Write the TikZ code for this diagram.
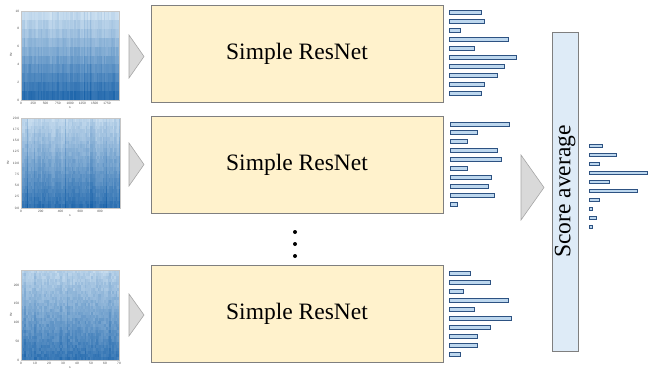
\documentclass[tikz,border=0pt]{standalone}
\usepackage{fontspec}
\setmainfont{Liberation Serif}
\newfontfamily\tickfont{Liberation Sans}
\definecolor{resfill}{RGB}{255,242,204}
\definecolor{boxline}{RGB}{127,127,127}
\definecolor{avgfill}{RGB}{222,235,247}
\definecolor{barfill}{RGB}{189,215,238}
\definecolor{barline}{RGB}{45,82,130}
\definecolor{trifill}{RGB}{217,217,217}
\definecolor{triline}{RGB}{166,166,166}
\definecolor{specL}{RGB}{210,228,243}
\definecolor{specD}{RGB}{22,96,168}
\tikzset{
  resbox/.style={draw=boxline, line width=1pt, fill=resfill, minimum width=292pt, minimum height=97pt, inner sep=0pt, font=\fontsize{23.5}{26}\selectfont},
  avgbox/.style={draw=boxline, line width=1pt, fill=avgfill, minimum width=319pt, minimum height=26pt, inner sep=0pt, rotate=90, font=\fontsize{23.5}{26}\selectfont},
  arrowtri/.style={draw=triline, fill=trifill, line width=0.6pt},
  hbar/.style={draw=barline, fill=barfill, line width=0.9pt},
  ticklab/.style={font=\tickfont\fontsize{3.2}{3.5}\selectfont, text=black!70, inner sep=0.6pt},
  specframe/.style={draw=gray!45, line width=0.5pt},
  dot/.style={circle, fill=black, minimum size=4pt, inner sep=0pt}
}
\def\streakamp{1}
% spectrogram: #1 x0, #2 y0, #3 w, #4 h, #5 cols, #6 rows, #7 top darkness, #8 range, #9 noise
\newcommand\specgram[9]{%
  \begin{scope}
  \clip (#1,#2) rectangle ++(#3,#4);
  \foreach \ci in {1,...,#5}{
    \pgfmathsetmacro\colr{(rnd*10-4+(rnd>0.93)*12)*\streakamp}
    \foreach \ri in {1,...,#6}{
      \pgfmathtruncatemacro\pp{max(0,min(100,#7+(\ri-1)/(#6-1)*#8+\colr+rnd*#9))}
      \fill[specD!\pp!specL] ({#1+(\ci-1)*#3/#5},{#2+(\ri-1)*#4/#6}) rectangle ++({#3/#5+1},{#4/#6+1});
    }}
  \end{scope}
  \draw[specframe] (#1,#2) rectangle ++(#3,#4);
}
\begin{document}
\begin{tikzpicture}[x=1pt,y=-1pt]
\useasboundingbox (0,0) rectangle (650,370);
\pgfmathsetseed{4242}

% ---------- spectrogram 1 ----------
\specgram{21}{11}{98}{89}{70}{10}{4}{80}{7}
\foreach \v/\yy in {0/100,2/82.2,4/64.4,6/46.6,8/28.8,10/11}
  {\node[ticklab, anchor=east] at (20,\yy) {\v};}
\foreach \v/\xx in {0/21,250/33.3,500/45.6,750/57.9,1000/70.1,1250/82.4,1500/94.7,1750/107}
  {\node[ticklab, anchor=north] at (\xx,101) {\v};}
\node[ticklab, anchor=north] at (70,106) {s};
\node[ticklab, rotate=90] at (11,55) {Hz};

% ---------- spectrogram 2 ----------
\specgram{21}{118}{99}{90}{70}{24}{6}{74}{9}
\foreach \v/\yy in {0.0/208,2.5/196.75,5.0/185.5,7.5/174.25,10.0/163,12.5/151.75,15.0/140.5,17.5/129.25,20.0/118}
  {\node[ticklab, anchor=east] at (20,\yy) {\v};}
\foreach \v/\xx in {0/21,200/40.8,400/60.5,600/80.3,800/100}
  {\node[ticklab, anchor=north] at (\xx,209) {\v};}
\node[ticklab, anchor=north] at (70,214) {s};
\node[ticklab, rotate=90] at (8,163) {Hz};

% ---------- spectrogram 3 ----------
\def\streakamp{0.5}
\specgram{21}{270}{98}{90}{60}{30}{8}{68}{13}
\foreach \v/\yy in {0/360,50/341.2,100/322.5,150/303.8,200/285}
  {\node[ticklab, anchor=east] at (20,\yy) {\v};}
\foreach \v/\xx in {0/21,10/35,20/49,30/63,40/77,50/91,60/105,70/119}
  {\node[ticklab, anchor=north] at (\xx,361) {\v};}
\node[ticklab, anchor=north] at (70,366) {s};
\node[ticklab, rotate=90] at (11,315) {Hz};

% ---------- arrows (triangles) ----------
\draw[arrowtri] (129,35) -- (144,56.5) -- (129,78) -- cycle;
\draw[arrowtri] (129,143) -- (144,164.5) -- (129,186) -- cycle;
\draw[arrowtri] (129,294) -- (144,315) -- (129,336) -- cycle;
\draw[arrowtri] (521,155) -- (544,187.5) -- (521,220) -- cycle;

% ---------- ResNet boxes ----------
\node[resbox] (r1) at (297,53.5) {Simple ResNet};
\node[resbox] (r2) at (297,164.5) {Simple ResNet};
\node[resbox] (r3) at (297,314) {Simple ResNet};

% ---------- dots ----------
\node[dot] (d1) at (295,232) {};
\node[dot] (d2) at (295,244) {};
\node[dot] (d3) at (295,256) {};

% ---------- bar charts ----------
\foreach \w [count=\i from 0] in {32,35,11,59,25,67,55,48,35,32}
  {\draw[hbar] (449,{12+9*\i-2}) rectangle ++(\w,4);}
\foreach \w [count=\i from 0] in {59,27,17,47,51,17,41,38,44,7}
  {\draw[hbar] (450,{124+8.9*\i-2}) rectangle ++(\w,4);}
\foreach \w [count=\i from 0] in {21,41,14,59,25,62,41,28,28,11}
  {\draw[hbar] (449,{273+9*\i-2}) rectangle ++(\w,4);}

% ---------- score average ----------
\node[avgbox] (avg) at (565,191.5) {Score average};
\foreach \w [count=\i from 0] in {13,27,10,58,20,48,10,3,7,3}
  {\draw[hbar, line width=0.8pt] (589,{146+9*\i-1.5}) rectangle ++(\w,3);}
\end{tikzpicture}
\end{document}
